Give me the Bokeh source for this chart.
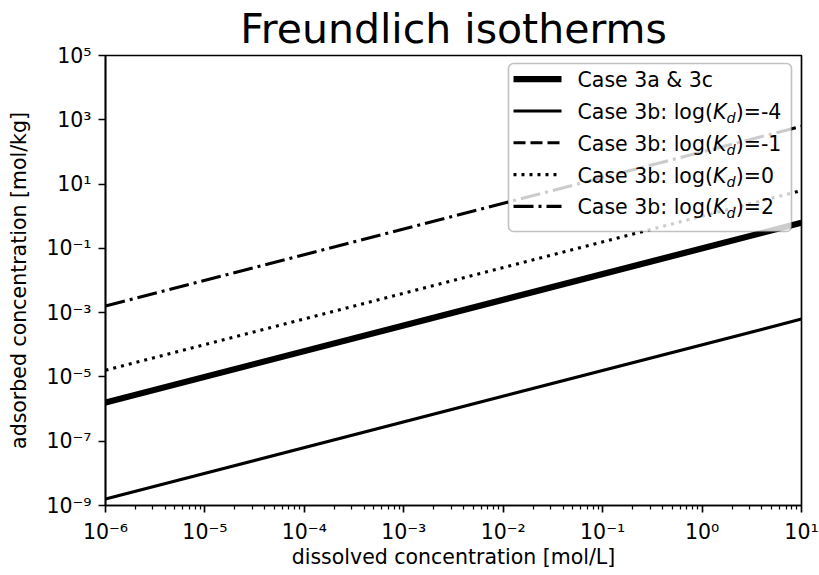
from bokeh.plotting import figure
from bokeh.models import (Range1d, FixedTicker, CustomJSTickFormatter,
                          BoxAnnotation, Arrow, Label)
from bokeh.embed import file_html
from bokeh.resources import INLINE

FONT = "DejaVu Sans"

# dissolved concentration at both ends of the plotted range [mol/L]
conc = [1e-6, 10.0]

# adsorbed concentration at those two ends [mol/kg]
case_3ac = [1.6e-6, 0.63]
case_3b_m4 = [1.6e-9, 6.3e-4]
case_3b_m1 = [1.6e-6, 0.63]
case_3b_0 = [1.6e-5, 6.3]
case_3b_2 = [1.6e-3, 630.0]

x_ticks = [1e-6, 1e-5, 1e-4, 1e-3, 1e-2, 1e-1, 1e0, 1e1]
y_ticks = [1e-9, 1e-7, 1e-5, 1e-3, 1e-1, 1e1, 1e3, 1e5]

legend_first = "Case 3a & 3c"
legend_prefix = "Case 3b: log("
kd_values = ["-4", "-1", "0", "2"]

# (values, line width, dash) per curve, in legend order
series = [
    (case_3ac, 6.25, "solid"),
    (case_3b_m4, 3.1, "solid"),
    (case_3b_m1, 3.1, "12 5"),
    (case_3b_0, 3.1, "3 5"),
    (case_3b_2, 3.1, "20 5 3 5"),
]

W, H = 819, 575
FL, FR, FT, FB = 105, 801, 52, 505   # frame edges in page pixels

p = figure(width=W, height=H, x_axis_type="log", y_axis_type="log",
           x_range=Range1d(1e-6, 10.0), y_range=Range1d(1e-9, 1e5),
           output_backend="svg", toolbar_location=None,
           min_border_left=FL, min_border_right=W - FR,
           min_border_top=FT, min_border_bottom=H - FB,
           background_fill_color="white", border_fill_color="white")

p.title.text = "Freundlich isotherms"
p.title.align = "center"
p.title.text_font = FONT
p.title.text_font_size = "41px"
p.title.text_font_style = "normal"
p.title.text_color = "black"
p.title.standoff = 5

p.xgrid.visible = False
p.ygrid.visible = False
p.outline_line_color = "black"
p.outline_line_width = 1.67
p.outline_line_alpha = 1.0

sup_js = """
const e = Math.round(Math.log10(tick));
const sup = {"-": "\u207b", "0": "\u2070", "1": "\u00b9", "2": "\u00b2", "3": "\u00b3",
             "4": "\u2074", "5": "\u2075", "6": "\u2076", "7": "\u2077", "8": "\u2078", "9": "\u2079"};
return "10" + String(e).split("").map((c) => sup[c]).join("");
"""

x_minor = [m * t for t in x_ticks[:-1] for m in range(2, 10)]
p.xaxis.ticker = FixedTicker(ticks=x_ticks, minor_ticks=x_minor)
p.yaxis.ticker = FixedTicker(ticks=y_ticks, minor_ticks=[])
p.xaxis.axis_label = "dissolved concentration [mol/L]"
p.yaxis.axis_label = "adsorbed concentration [mol/kg]"

for ax in (p.xaxis[0], p.yaxis[0]):
    ax.formatter = CustomJSTickFormatter(code=sup_js)
    ax.axis_line_width = 1.67
    ax.axis_line_color = "black"
    ax.major_tick_out = 7
    ax.major_tick_in = 0
    ax.minor_tick_out = 4
    ax.minor_tick_in = 0
    ax.major_tick_line_width = 1.67
    ax.minor_tick_line_width = 1.25
    ax.major_tick_line_color = "black"
    ax.minor_tick_line_color = "black"
    ax.major_label_text_font = FONT
    ax.major_label_text_font_size = "20.5px"
    ax.major_label_text_color = "black"
    ax.major_label_standoff = 7
    ax.axis_label_text_font = FONT
    ax.axis_label_text_font_size = "20.5px"
    ax.axis_label_text_font_style = "normal"
    ax.axis_label_text_color = "black"

p.xaxis[0].axis_label_standoff = -2
p.yaxis[0].axis_label_standoff = 12

for vals, lw, dash in series:
    p.line(conc, vals, line_color="black", line_width=lw, line_dash=dash)


# ---- legend, laid out in page pixels ----
def sx(px):
    return px - FL


def sy(py):
    return FB - py


p.add_layout(BoxAnnotation(left=sx(508), right=sx(791), top=sy(63), bottom=sy(231),
                           left_units="screen", right_units="screen",
                           top_units="screen", bottom_units="screen",
                           fill_color="white", fill_alpha=0.8,
                           line_color="#333333", line_width=1.6, border_radius=5))

row0, row_step = 86.7, 31.8   # text baselines
text_x = 577
fs = 20.5
prefix_w = 6.605 * fs      # advance of "Case 3b: log(" in DejaVu Sans
k_w = 0.669 * fs           # advance of oblique "K"
sub_fs = 0.7 * fs
d_w = 0.635 * sub_fs
mid = 0.346                # middle of the em box above the baseline, in em

for i, (vals, lw, dash) in enumerate(series):
    base = row0 + i * row_step
    p.add_layout(Arrow(end=None, x_start=sx(513), y_start=sy(base - 8),
                       x_end=sx(561), y_end=sy(base - 8),
                       start_units="screen", end_units="screen",
                       line_color="black", line_width=lw, line_dash=dash))
    common = dict(x_units="screen", y_units="screen", text_font=FONT,
                  text_color="black", text_baseline="middle", text_align="left")
    ty = sy(base - mid * fs)
    if i == 0:
        p.add_layout(Label(x=sx(text_x), y=ty, text=legend_first,
                           text_font_size=f"{fs}px", **common))
        continue
    p.add_layout(Label(x=sx(text_x), y=ty, text=legend_prefix,
                       text_font_size=f"{fs}px", **common))
    p.add_layout(Label(x=sx(text_x + prefix_w), y=ty, text="K",
                       text_font_size=f"{fs}px", text_font_style="italic", **common))
    p.add_layout(Label(x=sx(text_x + prefix_w + k_w), y=sy(base + 4 - mid * sub_fs), text="d",
                       text_font_size=f"{sub_fs:.1f}px", text_font_style="italic", **common))
    p.add_layout(Label(x=sx(text_x + prefix_w + k_w + d_w), y=ty,
                       text=")=" + kd_values[i - 1],
                       text_font_size=f"{fs}px", **common))

open("out.html", "w").write(file_html(p, INLINE))
